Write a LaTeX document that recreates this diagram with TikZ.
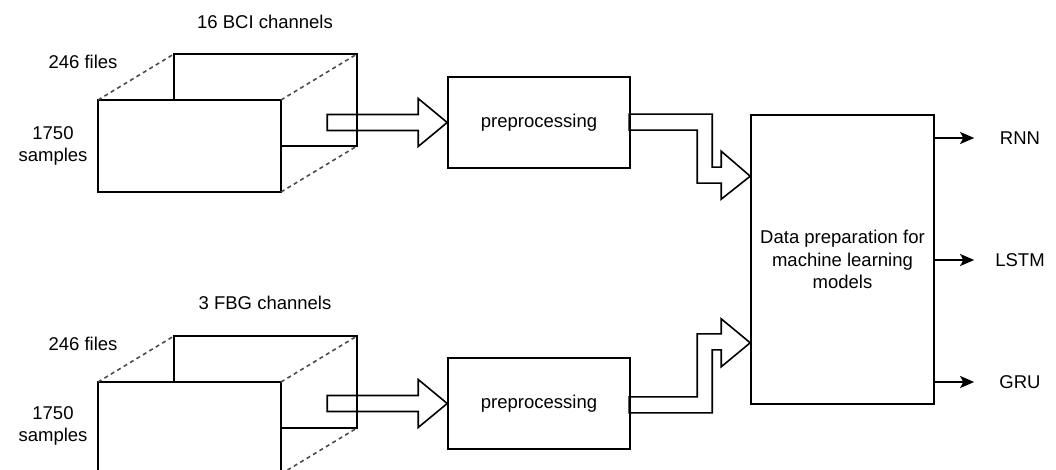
\documentclass[tikz,border=0pt]{standalone}
\usepackage{fontspec}
\setmainfont{Liberation Sans}
\usetikzlibrary{arrows.meta,calc}
\begin{document}
\begin{tikzpicture}[x=1pt,y=-1pt,
  line width=1.6pt, line join=miter,
  every node/.style={font=\fontsize{18.5}{22.5}\selectfont, inner sep=0pt},
  box/.style={draw, fill=white},
  hidden/.style={draw=black!70, dash pattern=on 4pt off 3.5pt, line width=1.6pt},
  fat/.style={draw},
  modelarrow/.style={-{Stealth[length=14pt,width=12pt,inset=3pt]}}]
\useasboundingbox (0,0) rectangle (1056,470);
\clip (0,0) rectangle (1056,470);

% ---- upper data cube (BCI) ----
\draw (174,100) -- (174,54) -- (357,54) -- (357,146) -- (281,146);
\draw[box] (98,100) rectangle (281,192);
\draw[hidden] (98,100) -- (174,54);
\draw[hidden] (281,100) -- (357,54);
\draw[hidden] (281,192) -- (357,146);
\node (bcich) at (265,22) {16 BCI channels};
\node (bcifiles) at (83,62) {246 files};
\node[align=center] (bcisamp) at (53,146) {1750\\samples};

% ---- lower data cube (FBG) ----
\draw (174,382) -- (174,336) -- (357,336) -- (357,428) -- (281,428);
\draw[box] (98,382) rectangle (281,474);
\draw[hidden] (98,382) -- (174,336);
\draw[hidden] (281,382) -- (357,336);
\draw[hidden] (281,474) -- (357,428);
\node (fbgch) at (265,303) {3 FBG channels};
\node (fbgfiles) at (83,344) {246 files};
\node[align=center] (fbgsamp) at (53,426) {1750\\samples};

% ---- processing blocks ----
\node[box, minimum width=182pt, minimum height=91pt] (pre1) at (539,122.5) {preprocessing};
\node[box, minimum width=182pt, minimum height=91pt] (pre2) at (539,403.5) {preprocessing};
\node[box, minimum width=183pt, minimum height=289pt, align=center] (dp) at (842.5,259.5)
  {Data preparation for\\machine learning\\models};

% entry points on the preparation block
\coordinate (in1) at ($(dp.north west)+(0,62)$);
\coordinate (in2) at ($(dp.south west)+(0,-62)$);

% ---- block arrows into preprocessing ----
\draw[fat] (pre1.west) -- ++(-29,-24) -- ++(0,16) -- ++(-91,0) -- ++(0,16)
  -- ++(91,0) -- ++(0,16) -- cycle;
\draw[fat] (pre2.west) -- ++(-29,-24) -- ++(0,16) -- ++(-91,0) -- ++(0,16)
  -- ++(91,0) -- ++(0,16) -- cycle;

% ---- elbow block arrows into data preparation ----
\draw[fat] (in1) -- ++(-29,-25) -- ++(0,16) -- ++(-9,0) -- ++(0,-53)
  -- ++(-83,0) -- ++(0,16) -- ++(68,0) -- ++(0,53) -- ++(24,0) -- ++(0,16) -- cycle;
\draw[fat] (in2) -- ++(-29,-24) -- ++(0,15) -- ++(-24,0) -- ++(0,63)
  -- ++(-68,0) -- ++(0,16) -- ++(83,0) -- ++(0,-63) -- ++(9,0) -- ++(0,17) -- cycle;

% ---- model outputs ----
\node (rnn) at (1020,138) {RNN};
\node (lstm) at (1020,260) {LSTM};
\node (gru) at (1020,382) {GRU};
\draw[modelarrow] (dp.east |- rnn) -- ([xshift=-25pt]rnn.west |- rnn);
\draw[modelarrow] (dp.east |- lstm) -- ([xshift=-25pt]rnn.west |- lstm);
\draw[modelarrow] (dp.east |- gru) -- ([xshift=-25pt]rnn.west |- gru);
\end{tikzpicture}
\end{document}
